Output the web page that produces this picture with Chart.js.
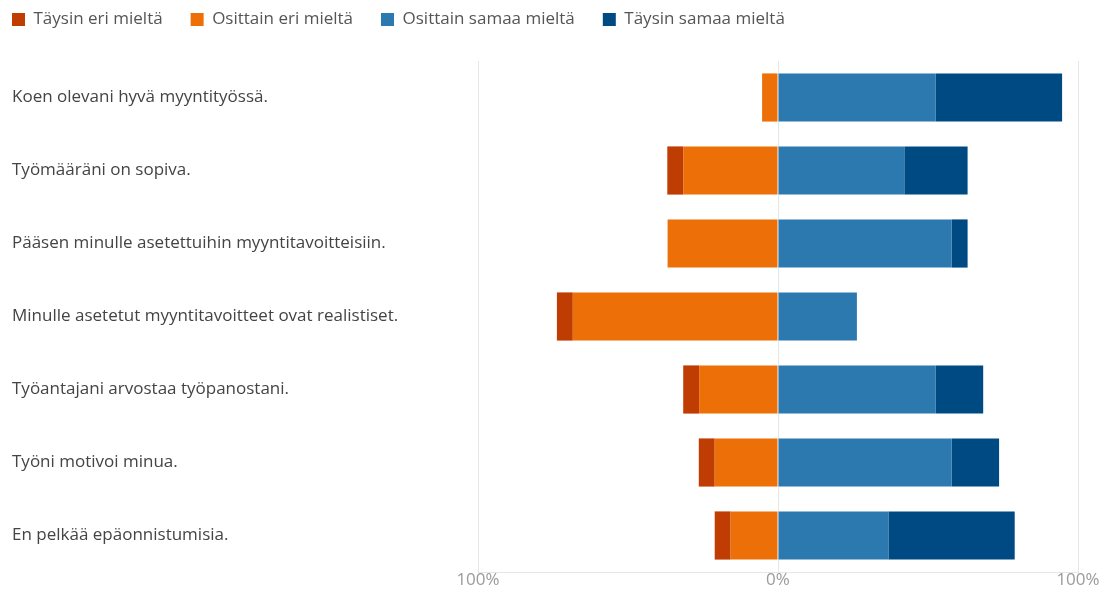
<!DOCTYPE html>
<html>
<head>
<meta charset="utf-8">
<script src="https://cdn.jsdelivr.net/npm/chart.js@4"></script>
<style>
  html, body { margin: 0; padding: 0; background: #fff; }
  #wrap { width: 1108px; height: 590px; }
</style>
</head>
<body>
<div id="wrap"><canvas id="c"></canvas></div>
<script>
/* data (% of answers, disagreement as negative) */
var questions = [
  'Koen olevani hyvä myyntityössä.',
  'Työmääräni on sopiva.',
  'Pääsen minulle asetettuihin myyntitavoitteisiin.',
  'Minulle asetetut myyntitavoitteet ovat realistiset.',
  'Työantajani arvostaa työpanostani.',
  'Työni motivoi minua.',
  'En pelkää epäonnistumisia.'
];
var seriesNames = ['Täysin eri mieltä', 'Osittain eri mieltä', 'Osittain samaa mieltä', 'Täysin samaa mieltä'];
var fullyDisagree   = [0, -5.3, 0, -5.3, -5.3, -5.3, -5.3];
var partlyDisagree  = [-5.3, -31.6, -36.8, -68.4, -26.3, -21.1, -15.8];
var partlyAgree     = [52.6, 42.1, 57.9, 26.3, 52.6, 57.9, 36.8];
var fullyAgree      = [42.1, 21.1, 5.3, 0, 15.8, 15.8, 42.1];
var xTicks = [-100, 0, 100];

var colors = ['#BF3D02', '#EC7007', '#2C79B0', '#004A84'];
var font = '"Open Sans", "Noto Sans", sans-serif';

/* stacking order: the one nearest zero first, legend keeps its own order */
var datasets = [
  { label: seriesNames[1], data: partlyDisagree, backgroundColor: colors[1], legendIdx: 1 },
  { label: seriesNames[0], data: fullyDisagree,  backgroundColor: colors[0], legendIdx: 0 },
  { label: seriesNames[2], data: partlyAgree,    backgroundColor: colors[2], legendIdx: 2 },
  { label: seriesNames[3], data: fullyAgree,     backgroundColor: colors[3], legendIdx: 3 }
];
datasets.forEach(function(d) {
  d.borderWidth = 0;
  d.categoryPercentage = 0.66;
  d.barPercentage = 1;
});

var LEGEND_PAD = 28;

/* move legend up to the top-left corner, plot area stays where it is */
var legendShift = {
  id: 'legendShift',
  afterLayout: function(chart) {
    var lg = chart.legend;
    if (!lg) return;
    lg.left = 12 - LEGEND_PAD;
    lg.top = 21 - LEGEND_PAD - 10;
  }
};

new Chart(document.getElementById('c'), {
  type: 'bar',
  data: { labels: questions, datasets: datasets },
  plugins: [legendShift],
  options: {
    indexAxis: 'y',
    responsive: true,
    maintainAspectRatio: false,
    animation: false,
    layout: { padding: { left: 12, right: 30, top: 6, bottom: 0 } },
    plugins: {
      tooltip: { enabled: false },
      legend: {
        position: 'top',
        align: 'start',
        labels: {
          boxWidth: 13,
          boxHeight: 13,
          padding: LEGEND_PAD,
          color: '#555',
          font: { family: font, size: 17 },
          sort: function(a, b) {
            return datasets[a.datasetIndex].legendIdx - datasets[b.datasetIndex].legendIdx;
          }
        }
      }
    },
    scales: {
      x: {
        stacked: true,
        min: -100,
        max: 100,
        afterBuildTicks: function(axis) {
          axis.ticks = xTicks.map(function(v) { return { value: v }; });
        },
        afterFit: function(axis) { axis.height = 18; },
        ticks: {
          color: '#9a9a9a',
          font: { family: font, size: 17 },
          padding: -2,
          callback: function(v) { return Math.abs(v) + '%'; }
        },
        grid: { color: '#e6e6e6', drawTicks: false },
        border: { color: '#e6e6e6' }
      },
      y: {
        stacked: true,
        afterFit: function(axis) { axis.width = 466; },
        ticks: {
          crossAlign: 'far',
          color: '#444',
          font: { family: font, size: 17 }
        },
        grid: { display: false },
        border: { display: false }
      }
    }
  }
});
</script>
</body>
</html>
